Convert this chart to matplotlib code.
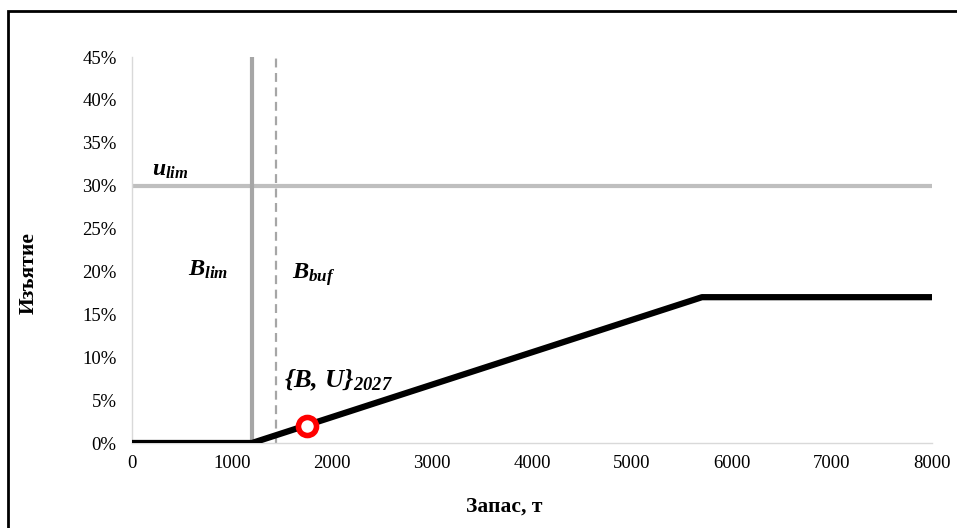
import matplotlib
matplotlib.use('Agg')
import matplotlib.pyplot as plt
import matplotlib.patches as patches
from matplotlib.ticker import FuncFormatter

plt.rcParams['font.family'] = ['Liberation Serif', 'DejaVu Serif']
plt.rcParams['mathtext.fontset'] = 'custom'
plt.rcParams['mathtext.it'] = 'Liberation Serif:italic:bold'
plt.rcParams['mathtext.rm'] = 'Liberation Serif:italic:bold'
plt.rcParams['mathtext.bf'] = 'Liberation Serif:italic:bold'

# правило управления (запас, изъятие в %)
hcr_x = [0, 1200, 1200, 5700, 8000]
hcr_y = [0, 0, 0, 17, 17]

b_lim = 1200
b_buf = 1440
u_lim = 30

point_x = [1750]
point_y = [2.0]

x_ticks = [0, 1000, 2000, 3000, 4000, 5000, 6000, 7000, 8000]
y_ticks = [0, 5, 10, 15, 20, 25, 30, 35, 40, 45]

fig = plt.figure(figsize=(9.57, 5.28), dpi=100)
ax = fig.add_axes([132/957, 85/528, 800/957, 386/528])

grey = '#bfbfbf'
ax.axhline(u_lim, color=grey, lw=3, zorder=1)
ax.axvline(b_lim, color='#a6a6a6', lw=3, zorder=1)
ax.axvline(b_buf, color='#a6a6a6', lw=1.6, ls=(0, (4, 2.5)), zorder=1)

ax.plot(hcr_x, hcr_y, color='black', lw=4.5, solid_capstyle='butt', zorder=3)
ax.plot(point_x, point_y, 'o', ms=13, mfc='white', mec='red', mew=4, zorder=4)

ax.text(200, 31.8, r'$u_{lim}$', fontsize=17, va='center', ha='left')
ax.text(560, 20.2, r'$B_{lim}$', fontsize=17.5, va='center', ha='left')
ax.text(1600, 19.6, r'$B_{buf}$', fontsize=17.5, va='center', ha='left')
ax.text(1520, 7.3, r'$\{B,\,U\}_{2027}$', fontsize=19, va='center', ha='left')

ax.set_xlim(0, 8000)
ax.set_ylim(0, 45)
ax.set_xticks(x_ticks)
ax.set_yticks(y_ticks)
ax.yaxis.set_major_formatter(FuncFormatter(lambda v, p: f'{int(v)}%'))
ax.tick_params(length=0, labelsize=13.5, pad=11)
ax.tick_params(axis='x', pad=9)

for s in ['top', 'right']:
    ax.spines[s].set_visible(False)
for s in ['left', 'bottom']:
    ax.spines[s].set_color('#d9d9d9')
    ax.spines[s].set_linewidth(1)

fig.text(29/957, 1 - 273/528, 'Изъятие', rotation=90, fontsize=15.5, fontweight='bold',
         ha='center', va='center')
fig.text(504/957, 1 - 507/528, 'Запас, т', fontsize=15.5, fontweight='bold',
         ha='center', va='center')

# внешняя рамка
frame = patches.Rectangle((8/957, -0.2), 1.2, 1.2 - 11/528, transform=fig.transFigure,
                          fill=False, edgecolor='black', lw=2, clip_on=False)
fig.patches.append(frame)

fig.savefig('out.png', dpi=100)
